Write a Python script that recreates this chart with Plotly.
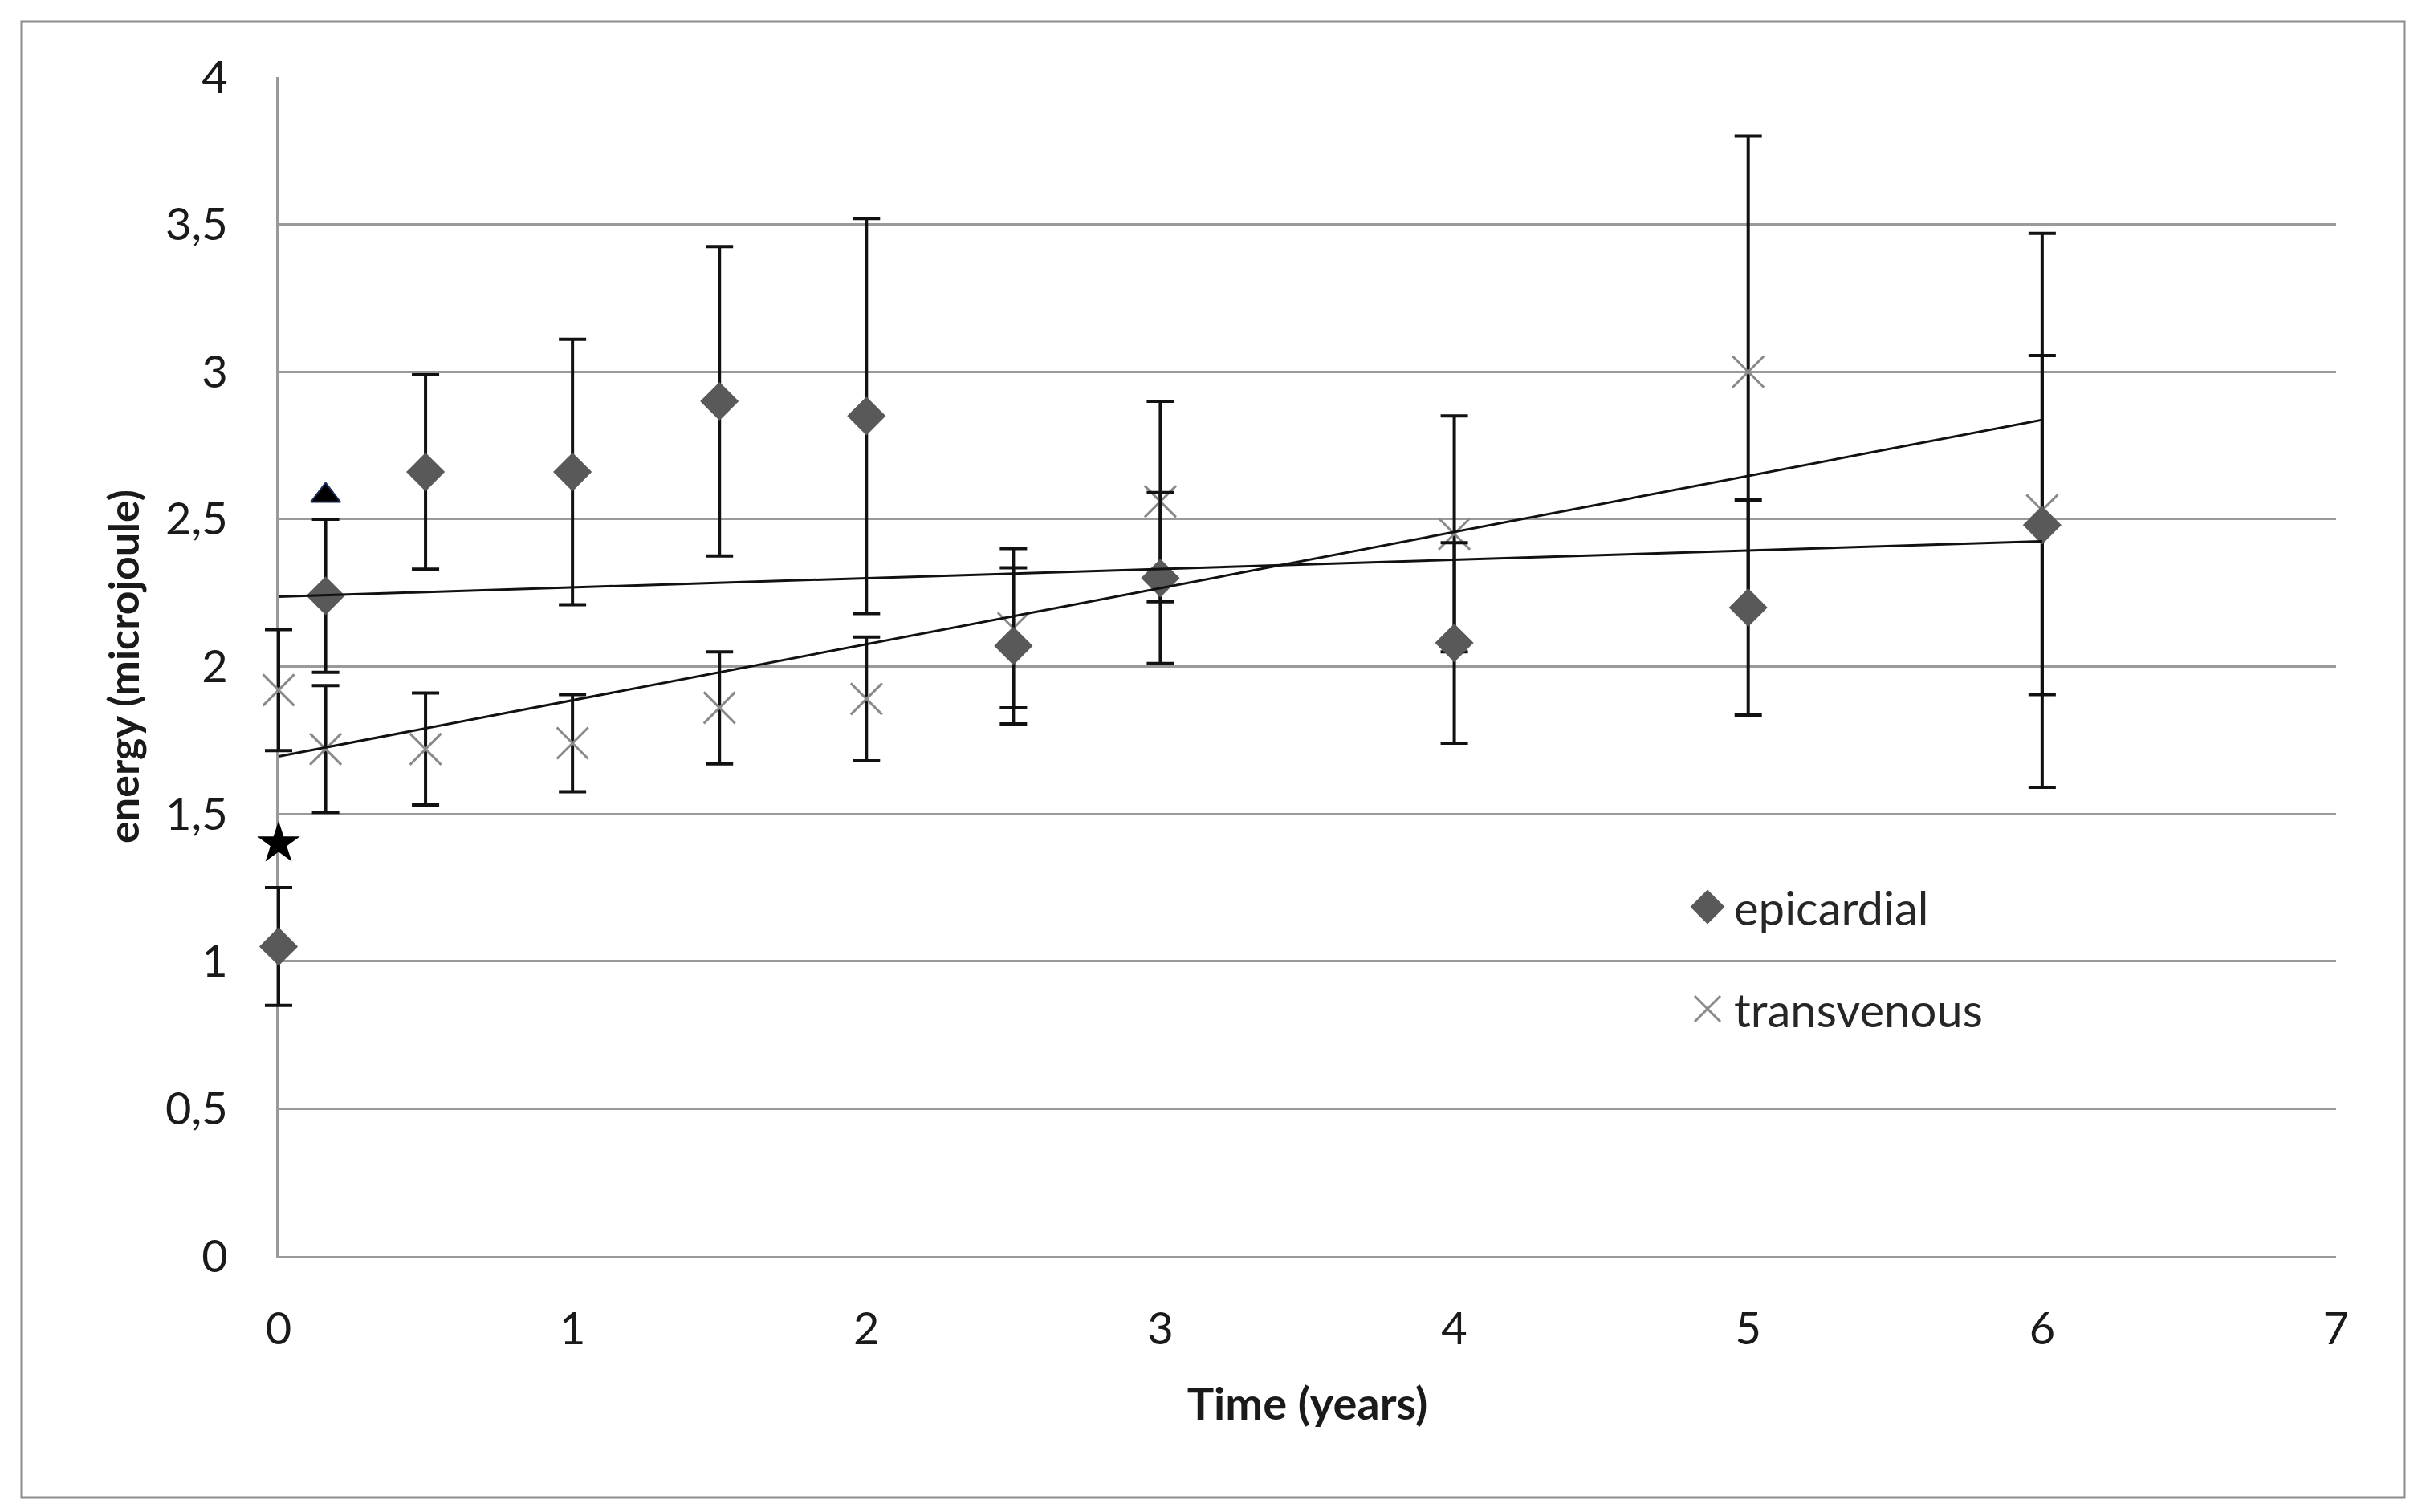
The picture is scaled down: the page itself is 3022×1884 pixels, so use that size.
import plotly.graph_objects as go

# ---------------- data ----------------
time_points = [0, 0.16, 0.5, 1, 1.5, 2, 2.5, 3, 4, 5, 6]

epicardial = [1.05, 2.24, 2.66, 2.66, 2.90, 2.85, 2.07, 2.30, 2.08, 2.20, 2.48]
epicardial_err = [0.20, 0.26, 0.33, 0.45, 0.525, 0.67, 0.265, 0.29, 0.34, 0.365, 0.575]

transvenous = [1.92, 1.72, 1.72, 1.74, 1.86, 1.89, 2.13, 2.56, 2.45, 3.00, 2.53]
transvenous_err = [0.205, 0.215, 0.19, 0.165, 0.19, 0.21, 0.27, 0.34, 0.40, 0.80, 0.94]

trend_x = [0, 6]
epicardial_trend = [2.237, 2.425]
transvenous_trend = [1.695, 2.837]

star_x = [0]
star_y = [1.40]
triangle_x = [0.16]
triangle_y = [2.58]

x_ticks = [0, 1, 2, 3, 4, 5, 6, 7]
y_ticks = [0, 0.5, 1, 1.5, 2, 2.5, 3, 3.5, 4]
x_range = [0, 7]
y_range = [0, 4]

# ---------------- layout geometry (pixels) ----------------
W, H = 3022, 1884
ML, MR = 300, 2942           # paper area (margins)
L, R, T, B = 347, 2910, 96, 1565   # visible plot area
FONT = "Lato"
TXT = "#1a1a1a"
GRID = "#9a9a9a"
DIAMOND = "#595959"
XGRAY = "#8a8a8a"
CLEAR = "rgba(0,0,0,0)"


def px(xp):
    return (xp - ML) / (MR - ML)


def py(yp):
    return (B - yp) / (B - T)


# data axis is slightly wider than the visible axis so that error-bar caps
# at x = 0 are not clipped; its range is matched to the visible axis scale
units_per_px = (x_range[1] - x_range[0]) / (R - L)
x2_range = [x_range[0] - (L - ML) * units_per_px,
            x_range[1] + (MR - R) * units_per_px]

fig = go.Figure()

# empty trace so the visible (axes-only) subplot is rendered
fig.add_trace(go.Scatter(x=[], y=[], xaxis="x", yaxis="y", mode="markers",
                         showlegend=False, hoverinfo="skip"))

DA = dict(xaxis="x2", yaxis="y2")

fig.add_trace(go.Scatter(
    x=time_points, y=transvenous, mode="markers", name="transvenous", **DA,
    marker=dict(symbol="x-thin-open", size=39, color=XGRAY,
                line=dict(color=XGRAY, width=3)),
    error_y=dict(type="data", array=transvenous_err, visible=True,
                 color="#111111", thickness=4, width=17),
    cliponaxis=False, showlegend=False))

fig.add_trace(go.Scatter(
    x=time_points, y=epicardial, mode="markers", name="epicardial", **DA,
    marker=dict(symbol="diamond", size=37, color=DIAMOND, line=dict(width=0)),
    error_y=dict(type="data", array=epicardial_err, visible=True,
                 color="#111111", thickness=4, width=17),
    cliponaxis=False, showlegend=False))

fig.add_trace(go.Scatter(
    x=trend_x, y=epicardial_trend, mode="lines", **DA,
    line=dict(color="#111111", width=3), showlegend=False, cliponaxis=False))
fig.add_trace(go.Scatter(
    x=trend_x, y=transvenous_trend, mode="lines", **DA,
    line=dict(color="#111111", width=3), showlegend=False, cliponaxis=False))

fig.add_trace(go.Scatter(
    x=star_x, y=star_y, mode="markers", **DA,
    marker=dict(symbol="star", size=40, color="black", line=dict(width=0)),
    showlegend=False, cliponaxis=False))
fig.add_trace(go.Scatter(
    x=triangle_x, y=triangle_y, mode="markers", **DA,
    marker=dict(symbol="triangle-up", size=32, color="black",
                line=dict(width=2, color="#203060")),
    showlegend=False, cliponaxis=False))

# ---------------- custom legend (overlay axis in pixel units) ----------------
leg_marker_x = 2127
leg_text_x = 2158
leg_y = [1130, 1257]
LA = dict(xaxis="x3", yaxis="y3")
fig.add_trace(go.Scatter(
    x=[leg_marker_x], y=[leg_y[0]], mode="markers", **LA,
    marker=dict(symbol="diamond", size=33, color=DIAMOND),
    showlegend=False, cliponaxis=False, hoverinfo="skip"))
fig.add_trace(go.Scatter(
    x=[leg_marker_x], y=[leg_y[1]], mode="markers", **LA,
    marker=dict(symbol="x-thin-open", size=32, color=XGRAY,
                line=dict(color=XGRAY, width=3)),
    showlegend=False, cliponaxis=False, hoverinfo="skip"))
for name, yy in zip(["epicardial", "transvenous"], leg_y):
    fig.add_annotation(x=px(leg_text_x), y=py(yy), xref="paper", yref="paper",
                       text=name, showarrow=False, xanchor="left",
                       yanchor="middle",
                       font=dict(family=FONT, size=58, color="#262626"))

# outer frame
fig.add_shape(type="rect", xref="paper", yref="paper",
              x0=px(27), x1=px(2995), y0=py(1866), y1=py(27),
              line=dict(color="#8c8c8c", width=3), layer="below")

fig.update_layout(
    width=W, height=H,
    margin=dict(l=ML, r=W - MR, t=T, b=H - B, pad=0),
    paper_bgcolor="white", plot_bgcolor=CLEAR,
    separators=",.",
    font=dict(family=FONT, size=54, color=TXT),
    xaxis=dict(range=x_range, tickvals=x_ticks, showgrid=False,
               domain=[px(L), px(R)], anchor="y",
               zeroline=False, showline=True, linecolor=GRID, linewidth=3,
               ticks="outside", ticklen=40, tickcolor=CLEAR,
               tickfont=dict(family=FONT, size=56, color=TXT),
               title=dict(text="<b>Time (years)</b>", standoff=44,
                          font=dict(family=FONT, size=56, color=TXT))),
    yaxis=dict(range=y_range, tickvals=y_ticks, showgrid=True, anchor="x",
               gridcolor=GRID, gridwidth=3, zeroline=False,
               showline=True, linecolor=GRID, linewidth=3,
               ticks="outside", ticklen=49, tickcolor=CLEAR,
               tickfont=dict(family=FONT, size=56, color=TXT),
               title=dict(text="<b>energy (microjoule)</b>", standoff=16,
                          font=dict(family=FONT, size=52, color=TXT))),
    xaxis2=dict(range=x2_range, domain=[0, 1], anchor="y2", visible=False,
                fixedrange=True),
    yaxis2=dict(range=y_range, domain=[0, 1], anchor="x2", visible=False,
                fixedrange=True),
    xaxis3=dict(range=[ML, MR], overlaying="x2", anchor="y3", visible=False,
                fixedrange=True),
    yaxis3=dict(range=[B, T], overlaying="y2", anchor="x3", visible=False,
                fixedrange=True),
)

fig.write_html("out.html", config={"displayModeBar": False},
               post_script="document.body.style.margin='0';document.body.style.overflow='hidden';")
